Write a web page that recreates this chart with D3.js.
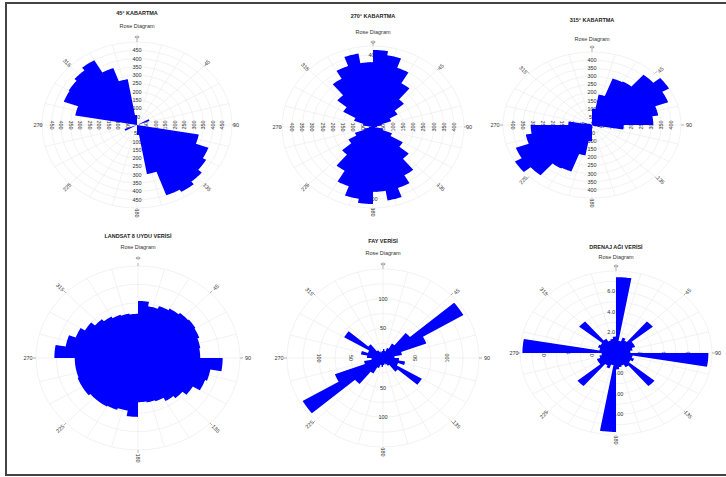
<!DOCTYPE html>
<html>
<head>
<meta charset="utf-8">
<script src="https://cdn.jsdelivr.net/npm/d3@7"></script>
<style>
body{margin:0;background:#fff}
svg{display:block;font-family:"Liberation Sans",Arial,sans-serif}
</style>
</head>
<body>
<svg width="726" height="477"></svg>
<script>
var svg = d3.select("svg");

// bin start angles (10 degree classes, clockwise from north)
var bins = d3.range(0, 360, 10);

// counts per class
var kabartma45  = [0,0,0,0,0,0,70,0,0,0, 330,400,420,445,465,450,300,60, 0,0,0,0,0,0,70,0,0,0, 330,410,415,430,450,365,280,60];
var kabartma270 = [428,405,350,280,200,140,95,45,20,10, 50,100,170,230,310,360,414,360, 428,405,350,280,200,140,95,45,20,10, 50,100,170,230,310,360,414,360];
var kabartma315 = [100,190,305,310,405,450,410,340,310,160, 40,20,10,0,0,0,0,20, 100,190,305,310,405,450,410,340,310,120, 40,20,10,0,0,0,0,20];
var landsat     = [62,57,60,62,64,65,64,62,61,83, 72,70,62,57,54,50,49,48, 64,58,60,61,61,63,63,62,62,82, 72,65,60,55,52,50,49,48];
var fay         = [15,12,18,28,55,145,72,30,18,25, 35,25,70,30,15,12,10,12, 15,12,18,30,57,145,80,30,18,25, 35,25,70,30,15,12,10,12];
var drenaj      = [7.4,1.2,1.6,1.4,4.0,1.7,1.7,1.4,1.2,7.7, 1.4,1.6,1.4,4.2,1.6,1.3,1.4,1.6, 7.7,1.2,1.6,1.4,4.2,1.7,1.7,1.4,1.2,7.8, 1.4,1.6,1.5,4.0,1.6,1.3,1.4,1.6];

var angleLabels = [0,45,90,135,180,225,270,315];

var charts = [
  {title:"45° KABARTMA", values:kabartma45, max:500, rings:d3.range(50,501,50), ticks:d3.range(50,451,50),
   cx:137, cy:125, rx:95, ry:83, lrx:99, lry:88, titleY:15, subY:28},
  {title:"270° KABARTMA", values:kabartma270, max:450, rings:d3.range(50,451,50), ticks:d3.range(50,401,50),
   cx:373, cy:127, rx:91, ry:81, lrx:96, lry:85, titleY:18, subY:34},
  {title:"315° KABARTMA", values:kabartma315, max:450, rings:d3.range(50,451,50), ticks:d3.range(50,401,50),
   cx:592, cy:125, rx:89, ry:73, lrx:97, lry:78, titleY:22, subY:41},
  {title:"LANDSAT 8 UYDU VERİSİ", values:landsat, max:100, rings:[20,40,60,80,100], ticks:[],
   cx:138, cy:358, rx:102, ry:92, lrx:110, lry:100, titleY:238, subY:249},
  {title:"FAY VERİSİ", values:fay, max:150, rings:[25,50,75,100,125,150], ticks:[50,100],
   cx:383, cy:358, rx:96, ry:89, lrx:104, lry:94, titleY:243, subY:255},
  {title:"DRENAJ AĞI VERİSİ", values:drenaj, max:8, rings:[1,2,3,4,5,6,7,8], ticks:[2,4,6],
   cx:616, cy:353, rx:96, ry:82, lrx:102, lry:87, titleY:249, subY:259, upAnchor:"end",
   tickText:{up:["2.0","4.0","6.0"], down:["2.00","4.00","6.00"], left:["2.0","4","6.0"], right:["2","4","6"]}}
];

var R = 100; // unscaled radius, each plot is stretched to rx/ry
var rad = Math.PI / 180;

charts.forEach(function(c) {
  var g = svg.append("g").attr("transform", "translate(" + c.cx + "," + c.cy + ")");
  var r = d3.scaleLinear().domain([0, c.max]).range([0, R]);
  var sx = c.rx / R, sy = c.ry / R;

  // grid
  var grid = g.append("g").attr("transform", "scale(" + sx + "," + sy + ")");
  grid.selectAll("circle").data(c.rings).join("circle")
    .attr("r", function(d){ return r(d); })
    .attr("fill", "none").attr("stroke", "#ececec").attr("stroke-width", 0.7)
    .attr("vector-effect", "non-scaling-stroke");
  grid.selectAll("line").data(d3.range(0, 360, 15)).join("line")
    .attr("x1", 0).attr("y1", 0)
    .attr("x2", function(a){ return R * Math.sin(a * rad); })
    .attr("y2", function(a){ return -R * Math.cos(a * rad); })
    .attr("stroke", "#ececec").attr("stroke-width", 0.7)
    .attr("vector-effect", "non-scaling-stroke");

  // radial tick labels on the four axes
  var tl = g.append("g").attr("font-size", 5.5).attr("fill", "#333").attr("text-anchor", "middle");
  var txt = function(dir, i, d){ return c.tickText ? c.tickText[dir][i] : d; };
  c.ticks.forEach(function(d, i) {
    tl.append("text").attr("x", c.upAnchor ? -1 : 0).attr("y", -r(d) * sy).attr("dy", "0.35em")
      .attr("text-anchor", c.upAnchor || "middle").text(txt("up", i, d));
    tl.append("text").attr("x", c.upAnchor ? 2 : 0).attr("y", r(d) * sy).attr("dy", "0.35em").text(txt("down", i, d));
    tl.append("text").attr("transform", "translate(" + (-r(d) * sx) + ",0) rotate(90)").attr("dy", "0.35em").text(txt("left", i, d));
    tl.append("text").attr("transform", "translate(" + (r(d) * sx) + ",0) rotate(-90)").attr("dy", "0.35em").text(txt("right", i, d));
  });

  // angular labels + small ticks
  angleLabels.forEach(function(a) {
    var s = Math.sin(a * rad), co = Math.cos(a * rad);
    g.append("line")
      .attr("x1", c.rx * s).attr("y1", -c.ry * co)
      .attr("x2", (c.rx + 3) * s).attr("y2", -(c.ry + 3) * co)
      .attr("stroke", "#666").attr("stroke-width", 0.5);
    var rot = a - 90;
    if (rot > 90) rot -= 180;
    if (rot < -90) rot += 180;
    g.append("text")
      .attr("transform", "translate(" + (c.lrx * s) + "," + (-c.lry * co) + ") rotate(" + rot + ")")
      .attr("text-anchor", "middle").attr("dy", "0.35em")
      .attr("font-size", 5.5).attr("fill", "#333")
      .text(a);
  });

  // petals: one closed outline around all classes (no inner edges -> no seams)
  var outline = [];
  bins.forEach(function(a, i) {
    var v = r(c.values[i]);
    for (var t = a; t <= a + 10; t += 1) outline.push([t * rad, v]);
  });
  var radial = d3.lineRadial()
    .angle(function(d){ return d[0]; })
    .radius(function(d){ return d[1]; })
    .curve(d3.curveLinearClosed);
  g.append("path")
    .attr("transform", "scale(" + sx + "," + sy + ")")
    .attr("d", radial(outline))
    .attr("fill", "#0000ff");

  // titles
  svg.append("text").attr("x", c.cx).attr("y", c.titleY).attr("text-anchor", "middle")
    .attr("font-size", 5.5).attr("font-weight", "bold").attr("fill", "#222").text(c.title);
  svg.append("text").attr("x", c.cx).attr("y", c.subY).attr("text-anchor", "middle")
    .attr("font-size", 5.5).attr("fill", "#333").text("Rose Diagram");
});

// frame around the figure
svg.append("path").attr("d", "M726,3 H6 V475 H726")
  .attr("fill", "none").attr("stroke", "#444").attr("stroke-width", 2);
</script>
</body>
</html>
